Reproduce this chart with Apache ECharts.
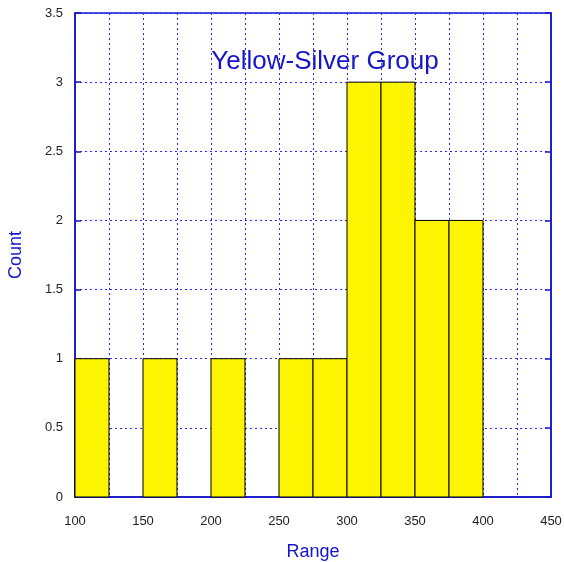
<!DOCTYPE html>
<html>
<head>
<meta charset="utf-8">
<script src="https://cdn.jsdelivr.net/npm/echarts@6/dist/echarts.min.js"></script>
<style>
  html, body { margin: 0; padding: 0; background: #fff; }
  #chart { width: 564px; height: 562px; }
</style>
</head>
<body>
<div id="chart"></div>
<script>
// histogram bins (left edge), bin width 25
const binStarts = [100, 125, 150, 175, 200, 225, 250, 275, 300, 325, 350, 375, 400, 425]
const counts = [1, 0, 1, 0, 1, 0, 1, 1, 3, 3, 2, 2, 0, 0]
const binWidth = 25

const blue = '#1414c8'
const gridBlue = '#2a2aff'

const chart = echarts.init(document.getElementById('chart'), null, { renderer: 'canvas' })

chart.setOption({
  backgroundColor: '#fff',
  animation: false,
  textStyle: { fontFamily: 'Liberation Sans, Arial, sans-serif' },
  title: {
    text: 'Yellow-Silver Group',
    left: 320,
    top: 44,
    textAlign: 'center',
    textStyle: { color: blue, fontSize: 26, fontWeight: 'normal', fontFamily: 'Liberation Sans, Arial, sans-serif' },
  },
  grid: {
    left: 75,
    right: 13,
    top: 13,
    bottom: 65,
    outerBoundsMode: 'none',
    containLabel: false,
    show: true,
    borderColor: blue,
    borderWidth: 1.5,
  },
  xAxis: {
    type: 'value',
    min: 100,
    max: 450,
    interval: 25,
    name: 'Range',
    nameLocation: 'middle',
    nameGap: 46,
    nameTextStyle: { color: blue, fontSize: 18 },
    axisLine: { lineStyle: { color: blue, width: 1.5 } },
    axisTick: { show: false },
    axisLabel: {
      color: '#222',
      fontSize: 13,
      margin: 18,
      formatter: (val) => (val % 50 === 0 ? String(val) : ''),
    },
    splitLine: { show: true, lineStyle: { color: gridBlue, type: [2, 3], width: 1 } },
  },
  yAxis: [
    {
      type: 'value',
      min: 0,
      max: 3.5,
      interval: 0.5,
      name: 'Count',
      nameLocation: 'middle',
      nameGap: 50,
      nameTextStyle: { color: blue, fontSize: 18 },
      axisLine: { show: true, lineStyle: { color: blue, width: 1.5 } },
      axisTick: { show: true, inside: true, length: 6, lineStyle: { color: blue, width: 1.5 } },
      axisLabel: { color: '#222', fontSize: 13, margin: 12 },
      splitLine: { show: true, lineStyle: { color: gridBlue, type: [2, 3], width: 1 } },
    },
    {
      type: 'value',
      min: 0,
      max: 3.5,
      interval: 0.5,
      position: 'right',
      axisLine: { show: true, lineStyle: { color: blue, width: 1.5 } },
      axisTick: { show: true, inside: true, length: 6, lineStyle: { color: blue, width: 1.5 } },
      axisLabel: { show: false },
      splitLine: { show: false },
    },
  ],
  series: [
    {
      type: 'custom',
      data: binStarts.map((x, i) => [x, x + binWidth, counts[i]]),
      renderItem: (params, api) => {
        const h = api.value(2)
        if (!h) return null
        const p0 = api.coord([api.value(0), 0])
        const p1 = api.coord([api.value(1), h])
        return {
          type: 'rect',
          shape: { x: p0[0], y: p1[1], width: p1[0] - p0[0], height: p0[1] - p1[1] },
          style: { fill: '#fcf400', stroke: '#000', lineWidth: 1 },
        }
      },
      z: 3,
    },
  ],
})
</script>
</body>
</html>
